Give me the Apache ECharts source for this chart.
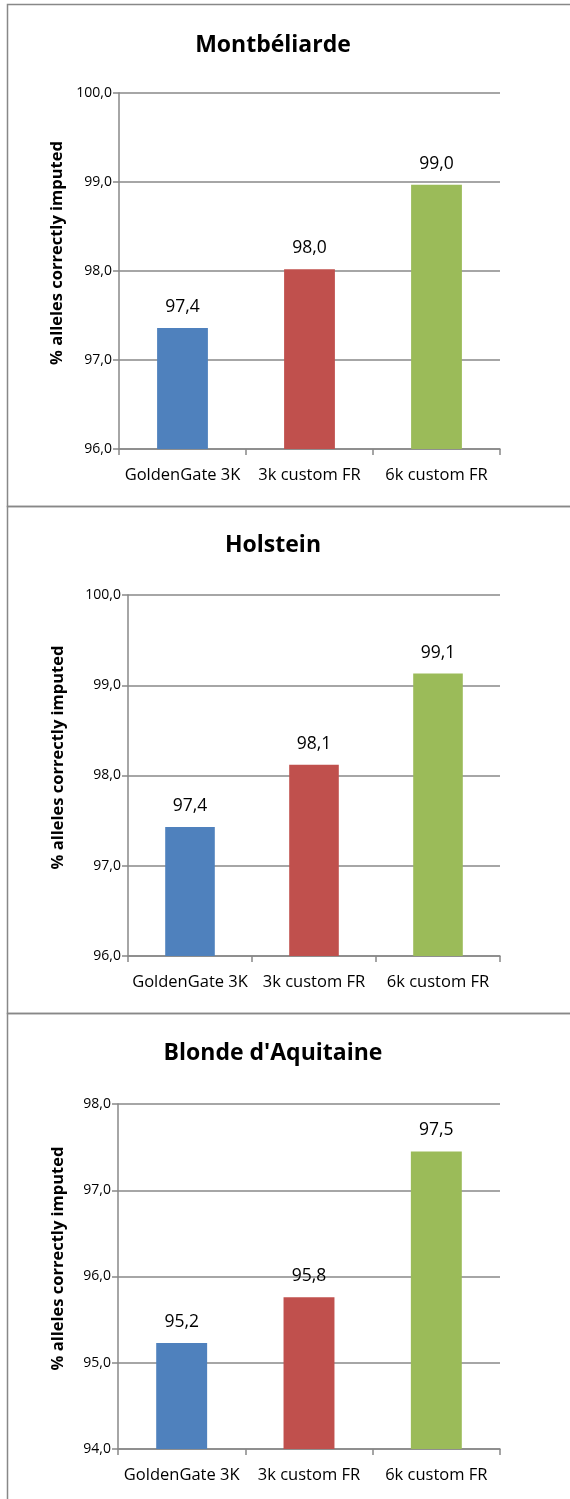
<!DOCTYPE html>
<html>
<head>
<meta charset="utf-8">
<script src="https://cdn.jsdelivr.net/npm/echarts@6/dist/echarts.min.js"></script>
<style>
html,body{margin:0;padding:0;background:#fff;}
#c{width:570px;height:1499px;}
</style>
</head>
<body>
<div id="c"></div>
<script>
const categories = ['GoldenGate 3K', '3k custom FR', '6k custom FR'];
const breeds = ['Montbéliarde', 'Holstein', "Blonde d'Aquitaine"];
const montbeliarde = [97.36, 98.02, 98.97];
const holstein = [97.43, 98.12, 99.13];
const blonde = [95.23, 95.76, 97.45];
const yMins = [96, 96, 94];
const yMaxs = [100, 100, 98];
const yTitle = '% alleles correctly imputed';
const barColors = ['#4F81BD', '#C0504D', '#9BBB59'];

const seriesValues = [montbeliarde, holstein, blonde];
const FONT = 'Open Sans';
const fmt = v => v.toFixed(1).replace('.', ',');

// layout for each panel
const panels = [
  {top: 4, h: 502, gridLeft: 119, gridTop: 93, gridH: 356, titleY: 29, nameGap: 52},
  {top: 506, h: 507, gridLeft: 128, gridTop: 595, gridH: 361, titleY: 529, nameGap: 61},
  {top: 1013, h: 520, gridLeft: 118, gridTop: 1104, gridH: 345, titleY: 1037, nameGap: 51}
];

const option = {
  animation: false,
  backgroundColor: '#fff',
  graphic: panels.map(p => ({
    type: 'rect',
    shape: {x: 7.5, y: p.top + 0.5, width: 620, height: p.h},
    style: {fill: 'none', stroke: '#888888', lineWidth: 1.5},
    z: -1
  })),
  title: panels.map((p, i) => ({
    text: breeds[i],
    left: 268,
    top: p.titleY,
    textAlign: 'center',
    textStyle: {fontFamily: FONT, fontWeight: 'bold', fontSize: 23, color: '#000'}
  })),
  grid: panels.map(p => ({
    left: p.gridLeft, right: 70, top: p.gridTop, height: p.gridH
  })),
  xAxis: panels.map((p, i) => ({
    type: 'category',
    gridIndex: i,
    data: categories,
    axisLine: {lineStyle: {color: '#888888', width: 1.5}},
    axisTick: {show: true, length: 6, lineStyle: {color: '#888888', width: 1.5}},
    axisLabel: {fontFamily: FONT, fontSize: 16.5, color: '#000', margin: 18, interval: 0}
  })),
  yAxis: panels.map((p, i) => ({
    type: 'value',
    gridIndex: i,
    min: yMins[i],
    max: yMaxs[i],
    interval: 1,
    name: yTitle,
    nameLocation: 'middle',
    nameGap: p.nameGap,
    nameTextStyle: {fontFamily: FONT, fontWeight: 'bold', fontSize: 16.5, color: '#000', padding: [0, 0, 0, 36]},
    axisLine: {show: true, lineStyle: {color: '#888888', width: 1.5}},
    axisTick: {show: true, length: 6, lineStyle: {color: '#888888', width: 1.5}},
    splitLine: {show: true, lineStyle: {color: '#888888', width: 1.5}},
    axisLabel: {fontFamily: FONT, fontSize: 14, color: '#000', margin: 7, formatter: v => fmt(v)}
  })),
  series: seriesValues.map((vals, i) => ({
    type: 'bar',
    xAxisIndex: i,
    yAxisIndex: i,
    barWidth: '40%',
    data: vals.map((v, j) => ({value: v, itemStyle: {color: barColors[j]}})),
    label: {
      show: true,
      position: 'top',
      distance: 12,
      fontFamily: FONT,
      fontSize: 17.5,
      color: '#000',
      formatter: p => fmt(p.value)
    }
  }))
};

const chart = echarts.init(document.getElementById('c'), null, {renderer: 'canvas'});
chart.setOption(option);
</script>
</body>
</html>
